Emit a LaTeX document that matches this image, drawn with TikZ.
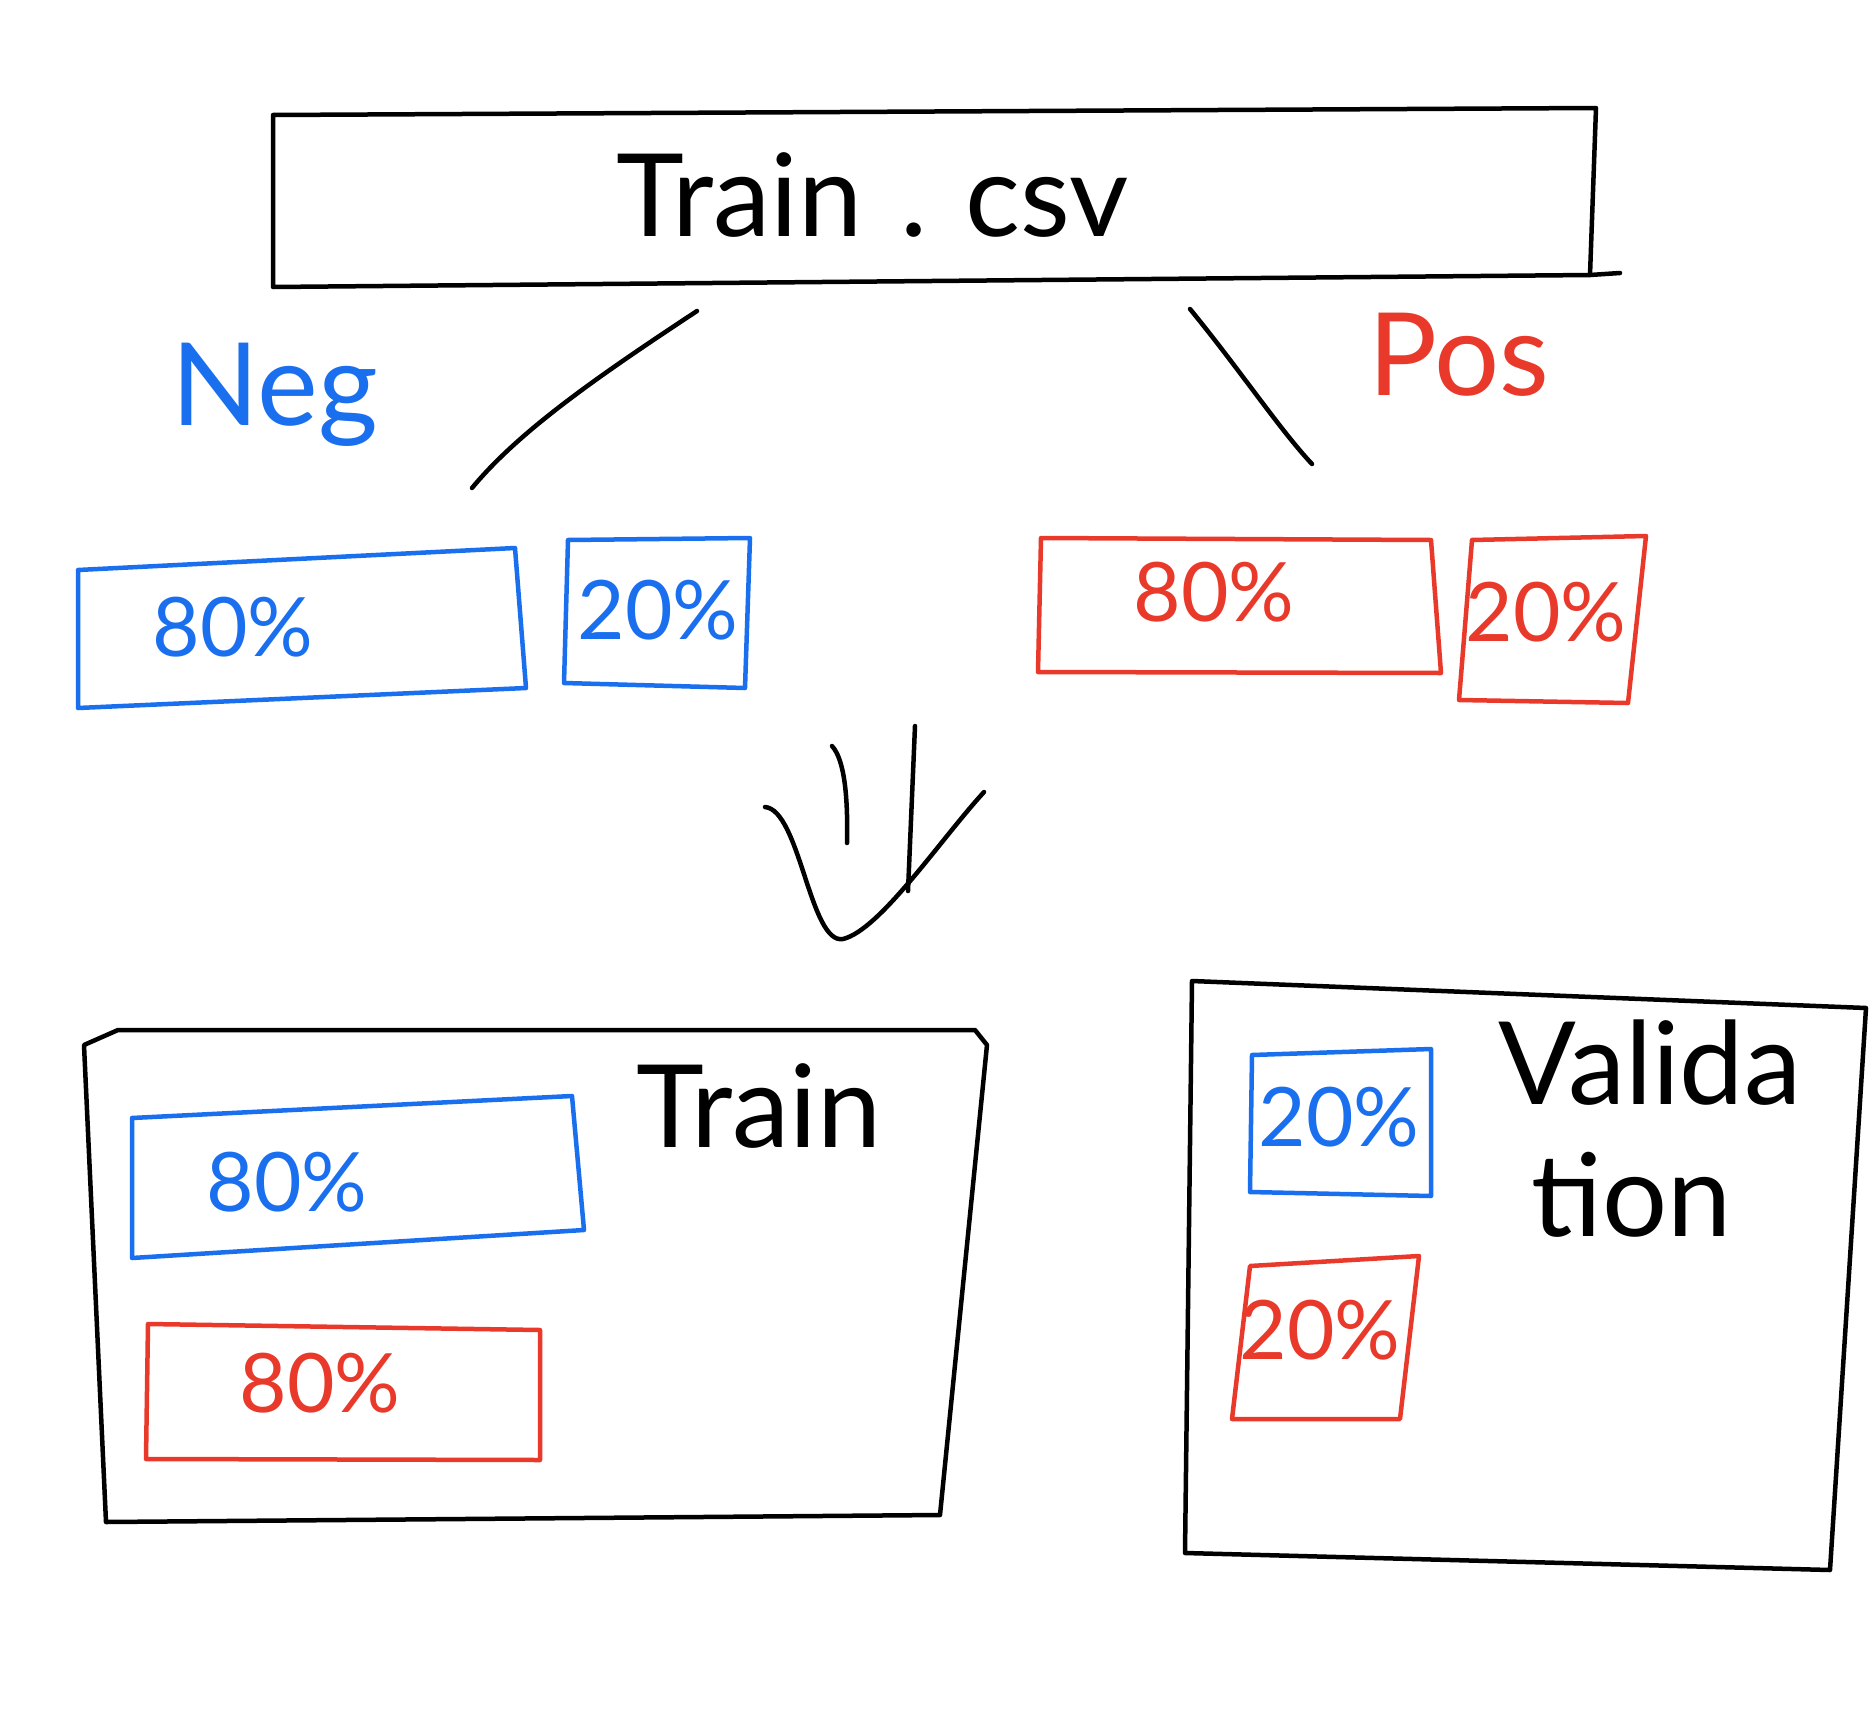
\documentclass[tikz,border=0pt]{standalone}
\usepackage{fontspec}
\setmainfont{Lato}
\definecolor{inkblue}{HTML}{1A6FEF}
\definecolor{inkred}{HTML}{E8392A}
\begin{document}
\begin{tikzpicture}[x=1pt,y=-1pt,
  ink/.style={line width=4.5pt,line cap=round,line join=round},
  bbox/.style={ink,draw=inkblue},
  rbox/.style={ink,draw=inkred},
  kbox/.style={ink,draw=black},
  pct/.style={font=\fontsize{82}{82}\selectfont},
  big/.style={font=\fontsize{115}{115}\selectfont}]
\useasboundingbox[fill=white] (0,0) rectangle (1875,1721);
% top box
\draw[kbox] (273,115) -- (1596,108) -- (1590,275) -- (273,287) -- cycle;
\draw[kbox] (1590,275) -- (1620,273);
\node[big] (csv) at (873,195) {Train\,\,.\,\,csv};
% labels
\node[big,text=inkblue] (neg) at (275,395) {Neg};
\node[big,text=inkred] (pos) at (1459,355) {Pos};
% connectors
\coordinate (l1) at (697,311); \coordinate (l2) at (472,488);
\coordinate (r1) at (1190,309); \coordinate (r2) at (1312,464);
\draw[ink] (l1) .. controls (600,375) and (520,430) .. (l2);
\draw[ink] (r1) .. controls (1240,370) and (1280,430) .. (r2);
% split boxes
\draw[bbox] (78,570) -- (515,548) -- (526,688) -- (78,708) -- cycle;
\node[pct,text=inkblue] (bn80) at (233,627) {80\%};
\draw[bbox] (568,540) -- (750,538) -- (745,688) -- (564,683) -- cycle;
\node[pct,text=inkblue] (bn20) at (658,610) {20\%};
\draw[rbox] (1041,538) -- (1431,540) -- (1441,673) -- (1038,672) -- cycle;
\node[pct,text=inkred] (rp80) at (1214,592) {80\%};
\draw[rbox] (1472,540) -- (1646,536) -- (1628,703) -- (1459,700) -- cycle;
\node[pct,text=inkred] (rp20) at (1546,612) {20\%};
% double arrow
\draw[ink] (832,746) .. controls (845,760) and (848,800) .. (847,843);
\draw[ink] (915,726) -- (908,891);
\draw[ink] (765,807) .. controls (800,810) and (810,945) .. (843,939)
  .. controls (880,930) and (940,840) .. (984,792);
% train box
\draw[kbox] (118,1030) -- (975,1030) -- (987,1045) -- (940,1515) -- (106,1522) -- (84,1045) -- cycle;
\node[big] (train) at (759,1106) {Train};
\draw[bbox] (132,1118) -- (572,1096) -- (584,1230) -- (132,1258) -- cycle;
\node[pct,text=inkblue] (tb80) at (287,1182) {80\%};
\draw[rbox] (148,1324) -- (540,1330) -- (540,1460) -- (146,1459) -- cycle;
\node[pct,text=inkred] (tr80) at (320,1383) {80\%};
% validation box
\draw[kbox] (1192,981) -- (1866,1008) -- (1830,1570) -- (1185,1553) -- cycle;
\node[big,anchor=west] (val1) at (1495,1063) {Valida};
\node[big] (val2) at (1632,1195) {tion};
\draw[bbox] (1252,1055) -- (1431,1049) -- (1431,1196) -- (1250,1192) -- cycle;
\node[pct,text=inkblue] (vb20) at (1339,1117) {20\%};
\draw[rbox] (1250,1266) -- (1419,1256) -- (1400,1419) -- (1232,1419) -- cycle;
\node[pct,text=inkred] (vr20) at (1320,1330) {20\%};
\end{tikzpicture}
\end{document}
